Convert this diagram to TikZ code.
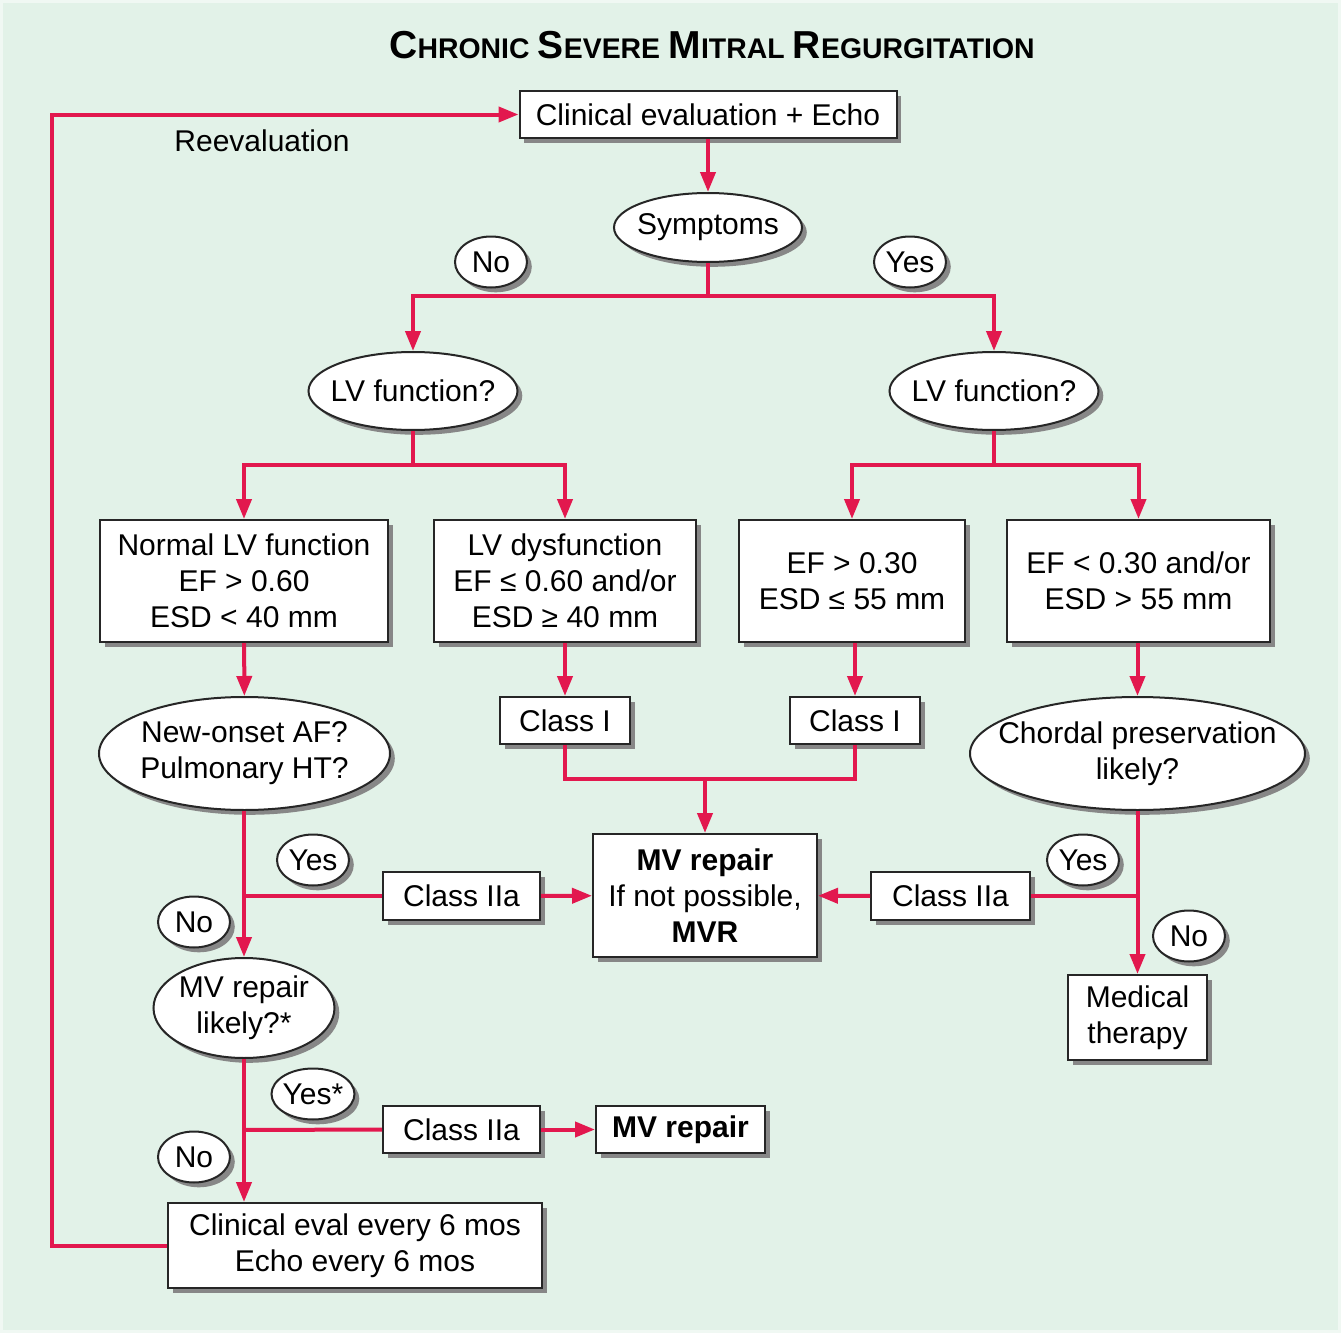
\documentclass[tikz,border=0pt]{standalone}
\usepackage{fontspec}
\setmainfont{Liberation Sans}
\usepackage{tikz}
\usetikzlibrary{arrows.meta,positioning,shapes.geometric,shadows}
\definecolor{mr@red}{RGB}{226,24,78}
\definecolor{mr@bg}{RGB}{226,242,232}
\definecolor{mr@rim}{RGB}{240,248,243}
\definecolor{mr@shadow}{RGB}{135,135,135}
\newcommand\mrcap[2]{{\fontsize{19.5}{22}\selectfont #1}{\fontsize{14.2}{16}\selectfont #2}}
\tikzset{
  mr/.style={
    x=0.5pt, y=-0.5pt,
    >={Triangle[length=10pt,width=7.5pt]},
    every node/.style={font=\fontsize{15}{18}\selectfont}
  },
  mrbox/.style={                   % action / finding box
    draw=black!85, line width=1pt,
    fill=white,
    inner sep=0pt,
    align=center,
    drop shadow={shadow xshift=2.4pt, shadow yshift=-2.4pt, fill=mr@shadow, opacity=1}
  },
  mrask/.style={                   % question ellipse, size set by minimum width/height
    mrbox, ellipse,
    inner xsep=-15pt, inner ysep=-8pt
  },
  mrans/.style={                   % yes / no tag
    mrask,
    minimum width=36pt, minimum height=25.5pt
  },
  flow/.style={draw=mr@red, line width=2pt},
  flowarrow/.style={->, draw=mr@red, line width=2pt}
}

\begin{document}
\begin{tikzpicture}[mr]
\fill[mr@rim] (0,0) rectangle (1341,1333);
\fill[mr@bg] (3,3) rectangle (1338,1330);

\node (title) at (712,45) {\bfseries\mrcap{C}{HRONIC} \mrcap{S}{EVERE} \mrcap{M}{ITRAL} \mrcap{R}{EGURGITATION}};

\node[mrbox, minimum width=188.5pt, minimum height=23.5pt] (eval) at (708,114.5) {Clinical evaluation + Echo};
\node (reeval) at (262,141) {Reevaluation};
\node[mrask, minimum width=94pt, minimum height=34.5pt]   (sym)  at (708,227.5) {Symptoms};

\node[mrask, minimum width=104.5pt, minimum height=39pt]  (lvno)  at (413,391) {LV function?};
\node[mrask, minimum width=104.5pt, minimum height=39pt]  (lvyes) at (994,391) {LV function?};

\node[mrbox, minimum width=144pt, minimum height=61pt]   (normal) at (244,581)    {Normal LV function\\EF > 0.60\\ESD < 40 mm};
\node[mrbox, minimum width=131pt, minimum height=61pt]   (dysf)   at (565,581)    {LV dysfunction\\EF ≤ 0.60 and/or\\ESD ≥ 40 mm};
\node[mrbox, minimum width=113pt, minimum height=61pt]   (efhi)   at (852,581)    {EF > 0.30\\ESD ≤ 55 mm};
\node[mrbox, minimum width=131.5pt, minimum height=61pt] (eflo)   at (1138.5,581) {EF < 0.30 and/or\\ESD > 55 mm};

\node[mrask, minimum width=145.5pt, minimum height=56.5pt] (newaf)   at (244.5,753.5)  {New-onset AF?\\Pulmonary HT?};
\node[mrbox, minimum width=65pt, minimum height=23.5pt]    (clsa)    at (565,720.5)    {Class I};
\node[mrbox, minimum width=65pt, minimum height=23.5pt]    (clsb)    at (855,720.5)    {Class I};
\node[mrask, minimum width=167.5pt, minimum height=56.5pt] (chordal) at (1137.5,753.5) {Chordal preservation\\likely?};

\node[mrbox, minimum width=112pt, minimum height=61.5pt] (mvrep)  at (705,895.5)  {\textbf{MV repair}\\If not possible,\\\textbf{MVR}};
\node[mrbox, minimum width=78.5pt, minimum height=24pt]  (clsc)   at (461.5,896)  {Class IIa};
\node[mrbox, minimum width=79.5pt, minimum height=24pt]  (clsd)   at (950.5,896)  {Class IIa};
\node[mrbox, minimum width=69.5pt, minimum height=42.5pt] (medic) at (1137.5,1017.5) {Medical\\therapy};

\node[mrask, minimum width=90.5pt, minimum height=50pt]  (mvlike) at (244,1008)    {MV repair\\likely?*};
\node[mrbox, minimum width=78.5pt, minimum height=23.5pt] (clse)  at (461.5,1129.5) {Class IIa};
\node[mrbox, minimum width=84.5pt, minimum height=23.5pt] (mvonly) at (680.5,1129.5) {\textbf{MV repair}\vphantom{y}};
\node[mrbox, minimum width=187pt, minimum height=42.5pt] (follow) at (355,1245.5)   {Clinical eval every 6 mos\\Echo every 6 mos};

% yes / no tags
\node[mrans] (tagno)   at (491,262)   {No};
\node[mrans] (tagyes)  at (910,262)   {Yes};
\node[mrans] (tagafy)  at (313,860)   {Yes};
\node[mrans] (tagafn)  at (194,922)   {No};
\node[mrans] (tagchy)  at (1083,860)  {Yes};
\node[mrans] (tagchn)  at (1189,936)  {No};
\node[mrans, minimum width=41.5pt] (tagmvy) at (313,1094) {Yes*};
\node[mrans] (tagmvn)  at (194,1157)  {No};

% junctions
\coordinate (symj)  at (708,296);
\coordinate (lvnoj) at (413,465);
\coordinate (lvyj)  at (994,465);
\coordinate (clsj)  at (705,779);
\coordinate (afj)   at (244,896);
\coordinate (chj)   at (1137.5,896);
\coordinate (mvj)   at (244,1130);
\coordinate (loopx) at (52,600);

\draw[flowarrow] (eval) -- (sym);
\draw[flow] (sym.south) -- (symj);
\draw[flowarrow] (symj) -| (lvno.north);
\draw[flowarrow] (symj) -| (lvyes.north);

\draw[flow] (lvno.south) -- (lvnoj);
\draw[flowarrow] (lvnoj) -| (normal.north);
\draw[flowarrow] (lvnoj) -| (dysf.north);
\draw[flow] (lvyes.south) -- (lvyj);
\draw[flowarrow] (lvyj) -| (efhi.north);
\draw[flowarrow] (lvyj) -| (eflo.north);

\draw[flowarrow] (normal) -- (newaf);
\draw[flowarrow] (dysf) -- (clsa);
\draw[flowarrow] (efhi.south -| clsb) -- (clsb);
\draw[flowarrow] (eflo.south -| chordal) -- (chordal);

\draw[flow] (clsa.south) |- (clsj) -| (clsb.south);
\draw[flowarrow] (clsj) -- (mvrep.north);

\draw[flowarrow] (newaf.south -| afj) -- (mvlike.north -| afj);
\draw[flow] (afj) -- (clsc.west);
\draw[flowarrow] (clsc) -- (mvrep);

\draw[flowarrow] (chordal) -- (medic);
\draw[flow] (chj) -- (clsd.east);
\draw[flowarrow] (clsd) -- (mvrep);

\draw[flowarrow] (mvlike.south) -- (mvlike.south |- follow.north);
\draw[flow] (mvj) -- (clse.west);
\draw[flowarrow] (clse) -- (mvonly);

% reevaluation loop
\draw[flowarrow] (follow.west) -- (follow.west -| loopx) |- (eval.west);

\end{tikzpicture}
\end{document}
